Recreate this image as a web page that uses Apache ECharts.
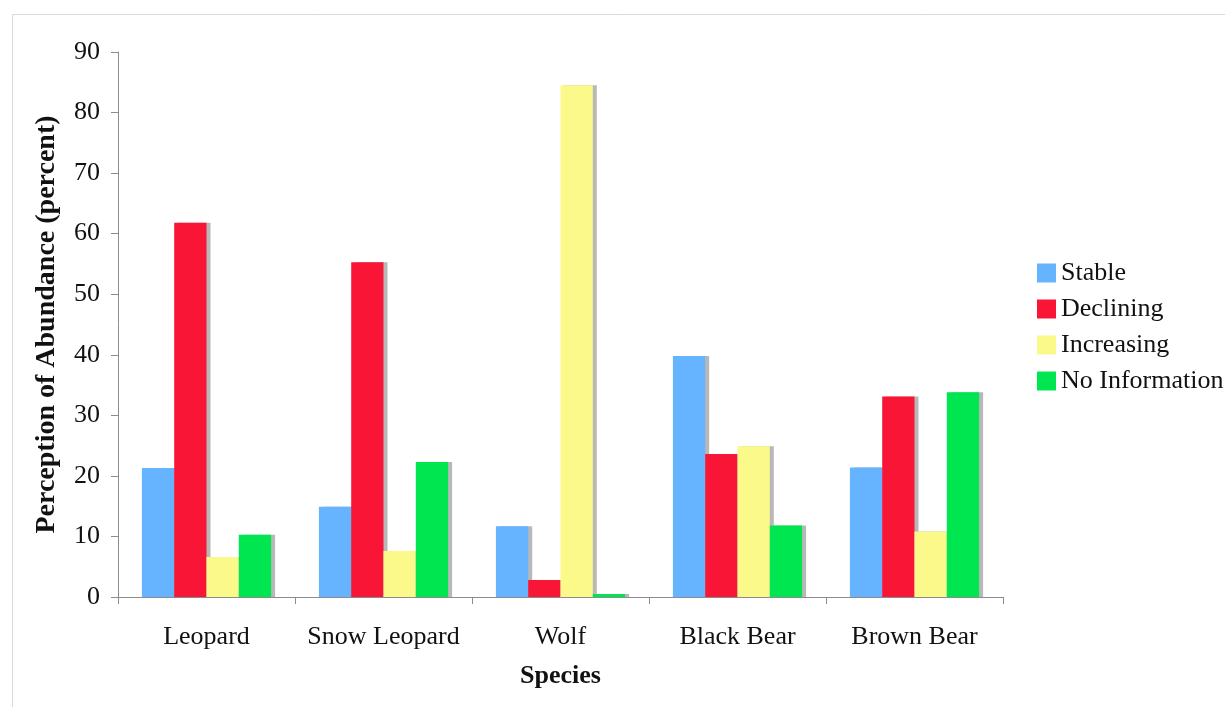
<!DOCTYPE html>
<html>
<head>
<meta charset="utf-8">
<script src="https://cdn.jsdelivr.net/npm/echarts@6/dist/echarts.min.js"></script>
<style>html,body{margin:0;padding:0;background:#fff;}#c{width:1225px;height:707px;}</style>
</head>
<body>
<div id="c"></div>
<script>
var categories = ['Leopard', 'Snow Leopard', 'Wolf', 'Black Bear', 'Brown Bear'];
var seriesNames = ['Stable', 'Declining', 'Increasing', 'No Information'];
var stable = [21.3, 14.9, 11.7, 39.8, 21.4];
var declining = [61.8, 55.3, 2.8, 23.6, 33.1];
var increasing = [6.6, 7.6, 84.5, 24.9, 10.8];
var noInfo = [10.3, 22.3, 0.5, 11.8, 33.8];
var yTicks = [0, 10, 20, 30, 40, 50, 60, 70, 80, 90];

var colors = ['#66b3ff', '#f81535', '#fbf98a', '#00e650'];
var dataSets = [stable, declining, increasing, noInfo];
var font = 'Liberation Serif';

var chart = echarts.init(document.getElementById('c'));
chart.setOption({
  backgroundColor: '#fff',
  animation: false,
  graphic: [{
    type: 'rect', left: 10, top: 12, shape: {width: 1230, height: 710},
    style: {fill: 'none', stroke: '#d9d9d9', lineWidth: 1}, silent: true
  }],
  grid: {left: 118, top: 52, right: 222, bottom: 110, containLabel: false},
  legend: {
    orient: 'vertical', left: 1032, top: 255,
    itemWidth: 19, itemHeight: 19, itemGap: 10, itemTextGap: 4,
    icon: 'rect',
    textStyle: {fontFamily: font, fontSize: 26, lineHeight: 26, color: '#111'},
    data: seriesNames
  },
  xAxis: {
    type: 'category', data: categories,
    name: 'Species', nameLocation: 'middle', nameGap: 66,
    nameTextStyle: {fontFamily: font, fontSize: 26, fontWeight: 'bold', color: '#111'},
    axisLine: {lineStyle: {color: '#8c8c8c', width: 1}},
    axisTick: {show: true, length: 7, interval: 0, lineStyle: {color: '#8c8c8c'}},
    axisLabel: {fontFamily: font, fontSize: 26, color: '#111', margin: 27, interval: 0, hideOverlap: false}
  },
  yAxis: {
    type: 'value', min: 0, max: 90, interval: 10,
    name: 'Perception of Abundance (percent)', nameLocation: 'middle', nameGap: 57,
    nameTextStyle: {fontFamily: font, fontSize: 28, fontWeight: 'bold', color: '#111'},
    axisLine: {show: true, lineStyle: {color: '#8c8c8c', width: 1}},
    axisTick: {show: true, length: 7, lineStyle: {color: '#8c8c8c'}},
    splitLine: {show: false},
    axisLabel: {fontFamily: font, fontSize: 26, color: '#111', margin: 18,
      formatter: function (v) { return yTicks.indexOf(v) >= 0 ? String(v) : ''; }}
  },
  series: seriesNames.map(function (n, i) {
    return {
      name: n, type: 'bar', data: dataSets[i],
      barGap: '0%', barCategoryGap: '27%',
      itemStyle: {color: colors[i], shadowColor: 'rgba(0,0,0,0.28)', shadowBlur: 0, shadowOffsetX: 4, shadowOffsetY: 0}
    };
  })
});
</script>
</body>
</html>
